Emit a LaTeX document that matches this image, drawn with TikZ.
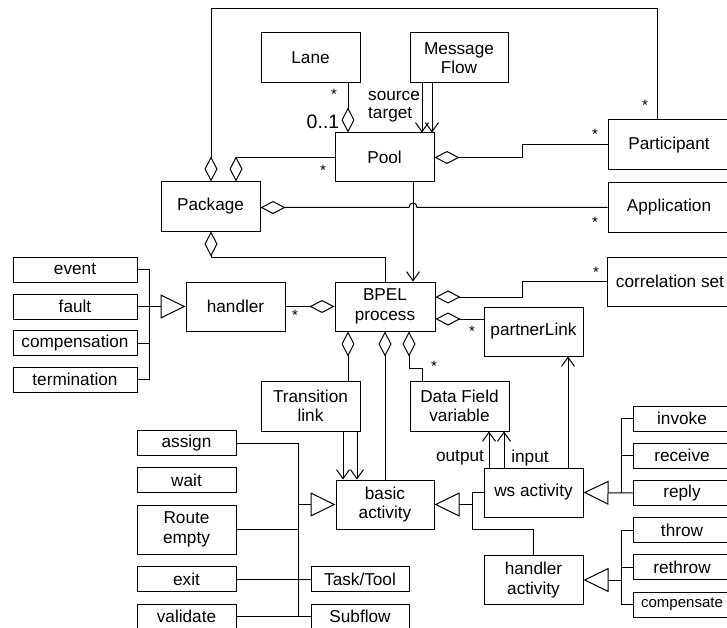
\documentclass[tikz,border=0pt]{standalone}
\usepackage{fontspec}
\setmainfont{Liberation Sans}
\usetikzlibrary{arrows.meta}

\tikzset{
  umlbox/.style 2 args={draw, line width=1pt, inner sep=0pt, align=center,
    minimum width=#1pt, minimum height=#2pt,
    font=\fontsize{17.2}{19.5}\selectfont},
  conn/.style={line width=1pt},
  agg/.style={conn, -{Diamond[open, length=25pt, width=13pt, line width=1pt]}},
  assoc/.style={conn, -{Straight Barb[length=9pt, width=13pt, line width=1pt]}},
  gen/.style={conn, -{Triangle[open, length=25pt, width=24pt, line width=1pt]}},
  mult/.style={inner sep=0pt, font=\fontsize{15}{15}\selectfont},
  lbl/.style={inner sep=0pt, font=\fontsize{17.2}{19.5}\selectfont},
}

\begin{document}
\begin{tikzpicture}[x=1pt, y=-1pt]
\useasboundingbox (0,0) rectangle (727,628);
\clip (0,0) rectangle (727,628);
\fill[white] (0,0) rectangle (727,628);

% ---- classes ----
\node[umlbox={99}{50}]  (lane)  at (310.5,58)  {Lane};
\node[umlbox={98}{50}]  (msg)   at (459,58)    {Message\\Flow};
\node[umlbox={99}{49}]  (pool)  at (384.5,157.5) {Pool};
\node[umlbox={122}{50}] (part)  at (669,145)   {Participant};
\node[umlbox={122}{49}] (app)   at (669,207.5) {Application};
\node[umlbox={99}{49}]  (pkg)   at (210.5,206.5) {Package};

\node[umlbox={124}{25}] (event) at (75,269.5)  {event};
\node[umlbox={124}{25}] (fault) at (75,306.5)  {fault};
\node[umlbox={124}{25}] (compn) at (75,343)    {compensation};
\node[umlbox={124}{25}] (term)  at (75,379.5)  {termination};
\node[umlbox={99}{49}]  (handler) at (235.5,306.5) {handler};

\node[umlbox={100}{49}] (bpel)  at (385,306.5) {BPEL\\process};
\node[umlbox={126}{49}] (corr)  at (670,281.5) {correlation set};
\node[umlbox={99}{49}]  (plink) at (533.5,331.5) {partnerLink};

\node[umlbox={99}{50}]  (trans) at (310.5,406) {Transition\\link};
\node[umlbox={99}{50}]  (data)  at (459.5,406) {Data Field\\variable};
\node[umlbox={98}{49}]  (basic) at (385,504.5) {basic\\activity};

\node[umlbox={99}{25}]  (assign)   at (186.5,443)   {assign};
\node[umlbox={99}{25}]  (wait)     at (186.5,480)   {wait};
\node[umlbox={99}{49}]  (route)    at (186.5,529.5) {Route\\empty};
\node[umlbox={99}{25}]  (exit)     at (186.5,579)   {exit};
\node[umlbox={99}{25}]  (validate) at (186.5,616.5) {validate};
\node[umlbox={98}{25}]  (task)     at (360,579)     {Task/Tool};
\node[umlbox={98}{25}]  (subflow)  at (360,616.5)   {Subflow};

\node[umlbox={99}{49}]  (ws)    at (533.5,492.5) {ws activity};
\node[umlbox={99}{49}]  (hact)  at (533.5,580)   {handler\\activity};

\node[umlbox={98}{25}]  (invoke)  at (682,418.5) {invoke};
\node[umlbox={98}{25}]  (receive) at (682,455.5) {receive};
\node[umlbox={98}{25}]  (reply)   at (682,493)   {reply};
\node[umlbox={98}{25}]  (throw)   at (682,530)   {throw};
\node[umlbox={98}{25}]  (rethrow) at (682,567)   {rethrow};
\node[umlbox={98}{25}, font=\fontsize{15}{17}\selectfont] (compe) at (682,604.5) {compensate};

% ---- Pool and its neighbours ----
\draw[agg] (lane.south -| 348,0) -- (pool.north -| 348,0);
\draw[assoc] (msg.south -| 422,0) -- (pool.north -| 422,0);
\draw[assoc] (msg.south -| 432,0) -- (pool.north -| 432,0);
\draw[agg] (part.north -| 657,0) |- (211,9) -- (pkg.north -| 211,0);
\draw[agg] (pool.west) -| (pkg.north -| 236,0);
\draw[agg] (part.west) -| (522,157.5) -- (pool.east);
\draw[agg] (app.west) -- (417,207.5)
  .. controls (417,201.5) and (409,201.5) .. (409,207.5) -- (pkg.east |- 0,207.5);
\draw[assoc] (pool.south -| 413,0) -- (bpel.north -| 413,0);
\draw[agg] (bpel.north -| 385,0) |- (211,257) -- (pkg.south -| 211,0);

% ---- handler hierarchy ----
\draw[conn] (event.east) -| (term.east -| 149,0) -- (term.east);
\draw[conn] (compn.east) -- (compn.east -| 149,0);
\draw[gen] (fault.east) -- (handler.west);
\draw[agg] (handler.east) -- (bpel.west);

% ---- BPEL process parts ----
\draw[agg] (corr.west) -| (522,297) -- (bpel.east |- 0,297);
\draw[agg] (plink.west |- 0,319) -- (bpel.east |- 0,319);
\draw[agg] (trans.north -| 348,0) -- (bpel.south -| 348,0);
\draw[agg] (basic.north -| 385,0) -- (bpel.south -| 385,0);
\draw[agg] (data.north -| 422,0) |- (409,368) -- (bpel.south -| 409,0);
\draw[assoc] (trans.south -| 343,0) -- (basic.north -| 343,0);
\draw[assoc] (trans.south -| 357,0) -- (basic.north -| 357,0);

% ---- basic activity hierarchy ----
\draw[conn] (assign.east) -| (validate.east -| 298,0) -- (validate.east);
\draw[conn] (route.east) -- (route.east -| 298,0);
\draw[conn] (exit.east) -- (task.west);
\draw[conn] (validate.east) -- (subflow.west);
\draw[gen] (basic.west -| 298,0) -- (basic.west);

\draw[conn] (ws.west) -| (472,529) -| (hact.north -| 533,0);
\draw[gen] (basic.east -| 472,0) -- (basic.east);

% ---- ws activity ----
\draw[assoc] (ws.north -| 489,0) -- (data.south -| 489,0);
\draw[assoc] (ws.north -| 504,0) -- (data.south -| 504,0);
\draw[assoc] (ws.north -| 568,0) -- (plink.south -| 568,0);
\draw[conn] (invoke.west) -| (reply.west -| 621,0);
\draw[conn] (receive.west) -- (receive.west -| 621,0);
\draw[gen] (reply.west) -- (ws.east);

% ---- handler activity ----
\draw[conn] (throw.west) -| (compe.west -| 621,0) -- (compe.west);
\draw[conn] (rethrow.west) -- (rethrow.west -| 621,0);
\draw[gen] (hact.east -| 621,0) -- (hact.east);

% ---- multiplicities and role names ----
\node[mult] (m1) at (334,94) {*};
\node[lbl, font=\fontsize{19.5}{19.5}\selectfont] (m2) at (323,122) {0..1};
\node[lbl, anchor=west] (src) at (368,96) {source};
\node[lbl, anchor=west] (tgt) at (368,115) {target};
\node[mult] (m3) at (645,105) {*};
\node[mult] (m4) at (323,170) {*};
\node[mult] (m5) at (595,134) {*};
\node[mult] (m6) at (595,222) {*};
\node[mult] (m7) at (295,315) {*};
\node[mult] (m8) at (596,272) {*};
\node[mult] (m9) at (472,331) {*};
\node[mult] (m10) at (434,366) {*};
\node[lbl] (out) at (460,458) {output};
\node[lbl] (inp) at (530,458) {input};
\end{tikzpicture}
\end{document}
